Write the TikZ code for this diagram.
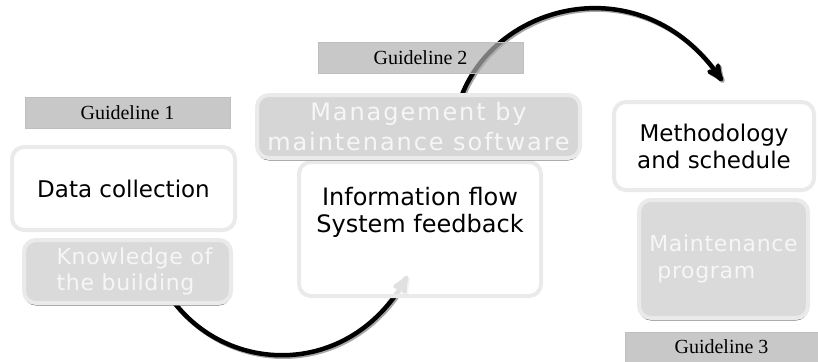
\documentclass[tikz,border=0pt]{standalone}
\usepackage{fontspec}
\setmainfont{DejaVu Sans}
\newfontfamily\guidefont{Liberation Serif}
\newfontfamily\palefont[LetterSpace=3]{DejaVu Sans}
\newfontfamily\widefont[LetterSpace=8]{DejaVu Sans}
\usetikzlibrary{positioning,arrows,shadows}
\definecolor{guidegray}{RGB}{176,176,176}
\definecolor{rimgray}{RGB}{234,234,234}
\definecolor{boxgray}{RGB}{218,218,218}
\definecolor{paletext}{RGB}{246,246,246}
\tikzset{
  cycle/.style={>=stealth',
    line width=4.5pt,
    shorten >=1pt},
  cycle shade/.style={cycle,draw=black!35,
    transform canvas={xshift=1.5pt,yshift=-1.5pt}},
  guide/.style={rectangle,inner sep=0pt,fill=guidegray,fill opacity=0.7,
    text opacity=1,draw=black!25,line width=0.5pt,
    font=\guidefont\fontsize{20}{24}\selectfont},
  whitebox/.style={rectangle,rounded corners=12pt,draw=rimgray,line width=4pt,
    fill=white,inner sep=0pt,align=center,font=\fontsize{23}{27}\selectfont},
  graybox/.style={whitebox,fill=boxgray,text=paletext,align=left,
    general shadow={shadow yshift=-2.5pt,fill=black!55}},
  size/.style 2 args={minimum width=#1pt,minimum height=#2pt}}

\begin{document}
\begin{tikzpicture}[x=1pt,y=-1pt]
  \useasboundingbox (0,0) rectangle (818,361);
  % lower arc, runs behind the middle box
  \coordinate (lowstart) at (174.5,303);
  \coordinate (lowend) at (408,275);
  \draw[cycle shade,->] (lowstart) .. controls (232,376) and (350,376) .. (lowend);
  \draw[cycle,->] (lowstart) .. controls (232,376) and (350,376) .. (lowend);
  \node[whitebox,fill opacity=0.88,text opacity=1,size={242}{134},
    label={[name=infotext,anchor=north,yshift=-24pt,align=center,
      font=\fontsize{24}{27}\selectfont]north:{Information flow\\System feedback}}]
    (info) at (420,229) {};
  % left column
  \node[guide,size={205}{31}] (g1) at (127.5,113) {Guideline 1};
  \node[whitebox,size={223}{83}] (data) at (123.5,188.5) {Data collection};
  \node[graybox,size={207}{63},font=\palefont\fontsize{22}{26}\selectfont]
    (know) at (127.5,271.5) {\hspace*{14pt}Knowledge of\\\hspace*{14pt}the building};
  % upper arc, starts behind the software box
  \coordinate (upstart) at (460,100);
  \coordinate (upend) at (723,82);
  \draw[cycle shade,->] (upstart) .. controls (494,2) and (642,-35) .. (upend);
  \draw[cycle,->] (upstart) .. controls (494,2) and (642,-35) .. (upend);
  \node[graybox,size={323}{63},align=center,fill=black!16,
    font=\widefont\fontsize{24}{30}\selectfont] (mgmt) at (418.5,126.5)
    {Management by\\maintenance software};
  \node[guide,size={205}{31}] (g2) at (420.5,57.5) {Guideline 2};
  % right column
  \node[whitebox,size={200}{88}] (meth) at (714,146) {Methodology\\and schedule};
  \node[graybox,size={169}{118},font=\palefont\fontsize{22}{27}\selectfont]
    (maint) at (723.5,259) {Maintenance\\\hspace*{8pt}program};
  \node[guide,size={193}{30}] (g3) at (721.5,347) {Guideline 3};
\end{tikzpicture}
\end{document}
